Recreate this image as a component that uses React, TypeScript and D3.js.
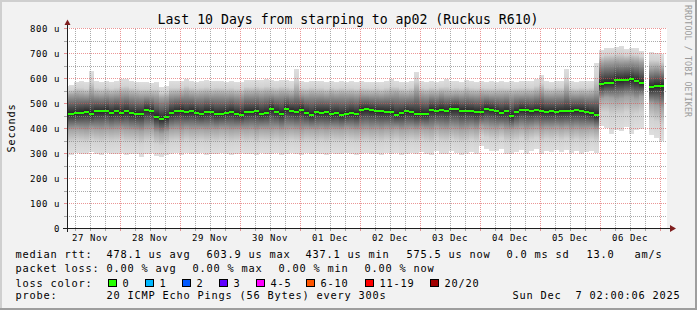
import React from 'react';
import * as d3 from 'd3';

// ---- data (2-hour bins starting 27 Nov 01:36 UTC) ----
const DATA_START = Date.UTC(2025, 10, 27, 1, 36);
const BIN_HOURS = 2;

const medianRtt = [
  460, 460, 461, 464, 468, 459, 469, 469, 472, 463,
  469, 461, 469, 461, 459, 459, 475, 469, 448, 438,
  445, 463, 469, 472, 465, 471, 464, 459, 467, 467,
  459, 460, 464, 468, 460, 456, 467, 468, 469, 460,
  464, 479, 468, 460, 480, 472, 467, 476, 463, 455,
  465, 464, 465, 457, 461, 455, 459, 464, 459, 475,
  477, 473, 469, 469, 467, 467, 456, 461, 469, 465,
  459, 460, 459, 476, 472, 476, 472, 479, 480, 472,
  472, 471, 467, 467, 480, 476, 469, 464, 469, 451,
  467, 476, 473, 469, 473, 471, 468, 469, 468, 469,
  469, 472, 473, 472, 467, 461, 453, 577, 583, 584,
  595, 593, 596, 597, 592, 581, null, 565, 571, 572,
];

const pingMax = [
  572, 575, 588, 590, 585, 632, 590, 588, 592, 586,
  590, 598, 600, 592, 588, 585, 585, 584, 586, 568,
  570, 590, 589, 591, 600, 592, 588, 590, 593, 589,
  591, 590, 588, 590, 586, 585, 595, 594, 596, 593,
  597, 595, 592, 596, 594, 590, 639, 590, 588, 592,
  589, 590, 586, 591, 588, 590, 587, 589, 586, 590,
  588, 587, 588, 586, 590, 599, 592, 588, 586, 590,
  628, 590, 587, 592, 588, 590, 600, 589, 591, 588,
  596, 590, 588, 590, 587, 589, 588, 591, 586, 590,
  588, 592, 590, 589, 600, 616, 590, 588, 592, 591,
  640, 590, 588, 591, 589, 592, 664, 716, 723, 724,
  727, 731, 718, 724, 722, 712, null, 708, 703, 697,
];

const pingHighQ = [
  532, 535, 538, 536, 534, 545, 536, 534, 538, 535,
  537, 540, 541, 536, 534, 532, 533, 532, 530, 522,
  525, 536, 537, 538, 542, 538, 535, 537, 539, 536,
  538, 537, 535, 537, 534, 533, 540, 539, 541, 538,
  541, 540, 538, 541, 540, 537, 548, 537, 535, 538,
  536, 537, 534, 538, 535, 537, 535, 536, 534, 537,
  536, 535, 536, 534, 537, 539, 542, 536, 534, 537,
  552, 537, 535, 538, 536, 542, 537, 536, 538, 536,
  540, 537, 536, 538, 537, 535, 536, 536, 538, 534,
  537, 536, 538, 537, 541, 548, 537, 536, 538, 538,
  552, 537, 536, 538, 536, 538, 548, 662, 666, 667,
  670, 668, 669, 671, 669, 664, null, 640, 643, 638,
];

const pingLowQ = [
  392, 396, 398, 395, 392, 400, 396, 394, 398, 395,
  397, 400, 396, 394, 392, 388, 396, 398, 384, 378,
  386, 396, 398, 394, 400, 396, 397, 398, 395, 397,
  395, 399, 398, 394, 396, 398, 396, 398, 392, 398,
  397, 396, 399, 394, 398, 400, 397, 394, 399, 397,
  395, 398, 394, 399, 397, 395, 400, 397, 394, 397,
  399, 395, 398, 394, 399, 396, 400, 394, 397, 399,
  395, 401, 398, 394, 404, 398, 396, 402, 399, 394,
  397, 401, 396, 410, 406, 402, 400, 405, 397, 396,
  400, 404, 398, 402, 406, 398, 403, 401, 404, 400,
  404, 398, 402, 398, 400, 402, 396, 520, 525, 522,
  516, 520, 526, 524, 518, 528, null, 500, 492, 482,
];

const pingMin = [
  288, 296, 302, 300, 298, 305, 300, 296, 302, 298,
  300, 304, 296, 298, 300, 288, 300, 302, 292, 286,
  294, 300, 302, 296, 304, 298, 300, 302, 296, 300,
  298, 302, 300, 296, 300, 304, 298, 300, 294, 302,
  300, 298, 302, 296, 300, 304, 300, 296, 302, 300,
  298, 300, 296, 302, 300, 298, 304, 300, 296, 300,
  302, 298, 300, 296, 302, 298, 304, 296, 300, 302,
  298, 306, 300, 296, 312, 300, 298, 310, 302, 296,
  300, 306, 298, 330, 320, 312, 310, 318, 300, 300,
  306, 316, 300, 310, 318, 300, 312, 308, 316, 306,
  314, 302, 310, 300, 306, 310, 302, 409, 403, 380,
  396, 389, 405, 378, 396, 400, null, 376, 363, 349,
];

const yTickValues = [0, 100, 200, 300, 400, 500, 600, 700, 800];

const legendRtt = [
  { text: 'median rtt:', x: 16 },
  { text: '478.1 us avg', x: 107 },
  { text: '603.9 us max', x: 207 },
  { text: '437.1 us min', x: 306 },
  { text: '575.5 us now', x: 407 },
  { text: '0.0 ms sd', x: 507 },
  { text: '13.0', x: 587 },
  { text: 'am/s', x: 635 },
];
const legendLoss = [
  { text: 'packet loss:', x: 16 },
  { text: '0.00 % avg', x: 107 },
  { text: '0.00 % max', x: 193 },
  { text: '0.00 % min', x: 279 },
  { text: '0.00 % now', x: 365 },
];
const lossLabels = ['0', '1', '2', '3', '4-5', '6-10', '11-19', '20/20'];
const lossColors = ['#26ff00', '#00b8ff', '#0059ff', '#5e00ff', '#ff00ff', '#ff5500', '#ff0000', '#a10000'];
const lossBoxX = [108.5, 145.5, 182.5, 219.5, 256.5, 306.5, 365.5, 430.5];

const W = 697;
const H = 310;
const MONO = '"DejaVu Sans Mono", monospace';
const PRE: React.CSSProperties = { whiteSpace: 'pre' };

export default function App() {
  const x = d3
    .scaleUtc()
    .domain([new Date(Date.UTC(2025, 10, 27, 2, 48)), new Date(Date.UTC(2025, 11, 7, 2, 48))])
    .range([67, 667]);
  const y = d3.scaleLinear().domain([0, 800]).range([228.5, 28.5]);
  const [x0, x1] = x.range();

  const bins = medianRtt.map((m, i) => {
    const t0 = new Date(DATA_START + i * BIN_HOURS * 3600e3);
    const t1 = new Date(DATA_START + (i + 1) * BIN_HOURS * 3600e3);
    return {
      i,
      xa: Math.round(x(t0)),
      xb: Math.round(x(t1)),
      med: m,
      lo: pingMin[i],
      q1: pingLowQ[i],
      q3: pingHighQ[i],
      hi: pingMax[i],
    };
  }).filter((b) => b.med !== null);

  const ticks6h = d3.utcHour.every(6)!.range(x.domain()[0], x.domain()[1]);
  const days = d3.utcDay.range(new Date(Date.UTC(2025, 10, 27)), new Date(Date.UTC(2025, 11, 7)));
  const fmtDay = d3.utcFormat('%d %b');
  const hLines = d3.range(50, 801, 50);

  const minorCol = 'rgba(143,143,143,0.75)';
  const majorCol = 'rgba(222,80,80,0.6)';

  return (
    <svg width={W} height={H} style={{ position: 'absolute', left: 0, top: 0 }} xmlns="http://www.w3.org/2000/svg">
      <defs>
        <clipPath id="plot">
          <rect x={x0} y={28} width={x1 - x0} height={201} />
        </clipPath>
        {bins.map((b) => {
          const top = y(b.hi as number);
          const bot = y(b.lo as number);
          const o = (v: number) => Math.max(0, Math.min(1, (y(v) - top) / (bot - top)));
          const hi = b.hi as number, lo = b.lo as number, q1 = b.q1 as number, q3 = b.q3 as number, med = b.med as number;
          return (
            <linearGradient key={b.i} id={`sm${b.i}`} gradientUnits="userSpaceOnUse" x1={0} x2={0} y1={top} y2={bot}>
              <stop offset={0} stopColor="#dedede" />
              <stop offset={o(q3 + (hi - q3) * 0.5)} stopColor="#d2d2d2" />
              <stop offset={o(q3)} stopColor="#a2a2a2" />
              <stop offset={o((q3 + med) / 2)} stopColor="#656565" />
              <stop offset={o(med)} stopColor="#262626" />
              <stop offset={o((q1 + med) / 2)} stopColor="#656565" />
              <stop offset={o(q1)} stopColor="#a2a2a2" />
              <stop offset={o(lo + (q1 - lo) * 0.5)} stopColor="#d2d2d2" />
              <stop offset={1} stopColor="#dedede" />
            </linearGradient>
          );
        })}
      </defs>

      {/* background & frame */}
      <rect x={0} y={0} width={W} height={H} fill="#f2f2f2" />
      <rect x={0} y={0} width={W} height={2} fill="#cfcfcf" />
      <rect x={0} y={0} width={2} height={H} fill="#cfcfcf" />
      <rect x={W - 2} y={0} width={2} height={H} fill="#9e9e9e" />
      <rect x={0} y={H - 2} width={W} height={2} fill="#9e9e9e" />

      {/* canvas */}
      <rect x={x0} y={28} width={x1 - x0} height={201} fill="#ffffff" />

      <g clipPath="url(#plot)" shapeRendering="crispEdges">
        {bins.map((b) => (
          <rect
            key={b.i}
            x={b.xa}
            width={b.xb - b.xa}
            y={y(b.hi as number)}
            height={y(b.lo as number) - y(b.hi as number)}
            fill={`url(#sm${b.i})`}
          />
        ))}
      </g>

      {/* grid */}
      <g shapeRendering="crispEdges">
        {hLines.map((v) => {
          const yy = Math.floor(y(v)) + 0.5;
          return (
            <line key={`h${v}`} x1={x0} x2={x1} y1={yy} y2={yy}
              stroke={v % 100 === 0 ? majorCol : minorCol} strokeDasharray="1,1" />
          );
        })}
        {ticks6h.map((t) => {
          const xx = Math.round(x(t)) + 0.5;
          const major = t.getUTCHours() === 0;
          return (
            <g key={`v${+t}`}>
              <line x1={xx} x2={xx} y1={28.5} y2={228} stroke={major ? majorCol : minorCol} strokeDasharray="1,1" />
              <line x1={xx} x2={xx} y1={229} y2={231} stroke={major ? majorCol : minorCol} />
            </g>
          );
        })}
        {hLines.map((v) => {
          const yy = Math.floor(y(v)) + 0.5;
          return <line key={`yt${v}`} x1={64} x2={67} y1={yy} y2={yy} stroke={v % 100 === 0 ? majorCol : minorCol} />;
        })}
      </g>

      {/* median */}
      <g clipPath="url(#plot)" shapeRendering="crispEdges">
        {bins.map((b) => (
          <rect key={b.i} x={b.xa} width={b.xb - b.xa} y={Math.round(y(b.med as number)) - 1} height={2} fill={lossColors[0]} />
        ))}
      </g>

      {/* axes */}
      <g shapeRendering="crispEdges">
        <line x1={63} x2={671} y1={228.5} y2={228.5} stroke="#1f1f1f" />
        <line x1={67.5} x2={67.5} y1={232} y2={24} stroke="#1f1f1f" />
      </g>
      <path d="M670,225 L676,228.5 L670,232 Z" fill="#801f1f" />
      <path d="M64.5,25 L67.5,19.5 L70.5,25 Z" fill="#801f1f" />

      {/* y labels */}
      {yTickValues.map((v) => (
        <text key={v} x={60} y={y(v) + 3.5} textAnchor="end" fontFamily={MONO} fontSize={9} letterSpacing={0.6} fill="#000" xmlSpace="preserve" style={PRE}>
          {v === 0 ? '0' : `${v} u`}
        </text>
      ))}

      {/* x labels */}
      {days.map((d) => (
        <text key={+d} x={x(new Date(+d + 12 * 3600e3))} y={241} textAnchor="middle" fontFamily={MONO} fontSize={9} letterSpacing={0.6} fill="#000">
          {fmtDay(d)}
        </text>
      ))}

      {/* title */}
      <text x={348} y={23.5} textAnchor="middle" fontFamily={MONO} fontSize={13.2} fill="#000">
        Last 10 Days from starping to ap02 (Ruckus R610)
      </text>

      {/* y axis title */}
      <text transform="translate(15,128) rotate(-90)" textAnchor="middle" fontFamily={MONO} fontSize={10.3} letterSpacing={0.8} fill="#000">
        Seconds
      </text>

      {/* watermark */}
      <text transform="translate(685,5) rotate(90)" fontFamily={MONO} fontSize={8.3} letterSpacing={0.1} fill="#9a9a9a" xmlSpace="preserve" style={PRE}>
        RRDTOOL / TOBI OETIKER
      </text>

      {/* legend */}
      <g fontFamily={MONO} fontSize={10.3} letterSpacing={0.8} fill="#000">
        {legendRtt.map((l) => (
          <text key={l.text} x={l.x - 0.5} y={257.7} xmlSpace="preserve" style={PRE}>{l.text}</text>
        ))}
        {legendLoss.map((l) => (
          <text key={l.text} x={l.x - 0.5} y={271.7} xmlSpace="preserve" style={PRE}>{l.text}</text>
        ))}
        <text x={15.5} y={286.5}>loss color:</text>
        {lossLabels.map((lab, i) => (
          <g key={lab}>
            <rect x={lossBoxX[i]} y={279.5} width={8} height={7} fill={lossColors[i]} stroke="#000" strokeWidth={1} />
            <text x={lossBoxX[i] + 14} y={286.5}>{lab}</text>
          </g>
        ))}
        <text x={15.5} y={299.3}>probe:</text>
        <text x={106.5} y={299.3} xmlSpace="preserve" style={PRE}>20 ICMP Echo Pings (56 Bytes) every 300s</text>
        <text x={512.5} y={299.3} xmlSpace="preserve" style={PRE}>{'Sun Dec\u00a0\u00a07 02:00:06 2025'}</text>
      </g>
    </svg>
  );
}
